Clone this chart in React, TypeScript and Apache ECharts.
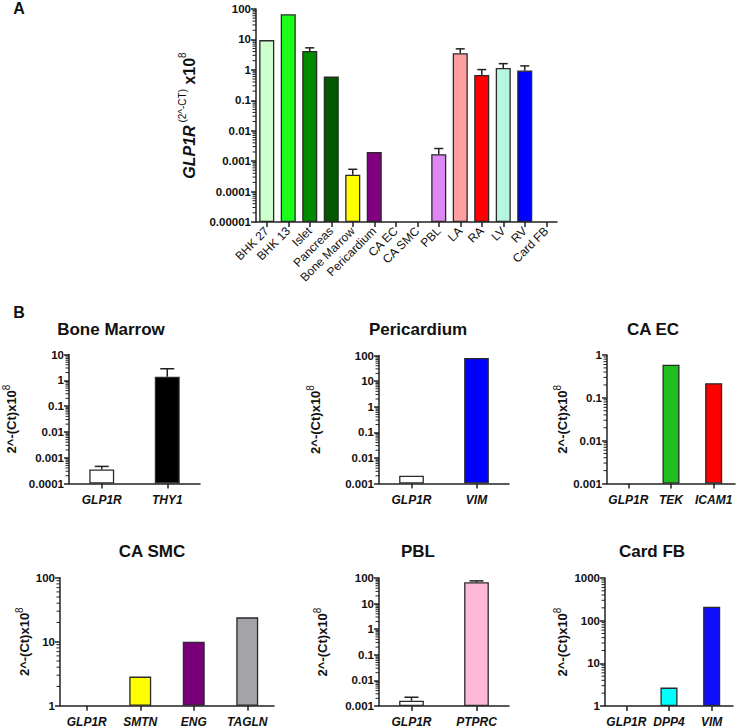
import React, { useEffect, useRef } from 'react';
import * as echarts from 'echarts';

// ---------- Data ----------
const topCategories = ['BHK 27', 'BHK 13', 'Islet', 'Pancreas', 'Bone Marrow', 'Pericardium', 'CA EC', 'CA SMC', 'PBL', 'LA', 'RA', 'LV', 'RV', 'Card FB'];
const topValues = [9.5, 67, 4.2, 0.6, 0.00036, 0.002, null, null, 0.0017, 3.5, 0.68, 1.15, 0.95, null];
const topErrTop = [null, null, 5.3, null, 0.00054, null, null, null, 0.0026, 4.9, 1.02, 1.6, 1.35, null];

const boneMarrowGenes = ['GLP1R', 'THY1'];
const boneMarrowValues = [0.00035, 1.38];
const boneMarrowErrTop = [0.00046, 2.8];

const pericardiumGenes = ['GLP1R', 'VIM'];
const pericardiumValues = [0.002, 80];
const pericardiumErrTop = [null, null];

const caEcGenes = ['GLP1R', 'TEK', 'ICAM1'];
const caEcValues = [null, 0.59, 0.22];
const caEcErrTop = [null, null, null];

const caSmcGenes = ['GLP1R', 'SMTN', 'ENG', 'TAGLN'];
const caSmcValues = [null, 2.85, 10, 24];
const caSmcErrTop = [null, null, null, null];

const pblGenes = ['GLP1R', 'PTPRC'];
const pblValues = [0.0016, 68];
const pblErrTop = [0.0022, 77];

const cardFbGenes = ['GLP1R', 'DPP4', 'VIM'];
const cardFbValues = [null, 2.7, 213];
const cardFbErrTop = [null, null, null];

// ---------- Styles ----------
const topColors = ['#ccffcc', '#1aff1a', '#008a00', '#005800', '#ffff00', '#800080', '#ffffff', '#ffffff', '#dd88f2', '#ffa0a0', '#ff0000', '#b4f6e0', '#0000ff', '#ffffff'];
const boneMarrowColors = ['#ffffff', '#000000'];
const pericardiumColors = ['#ffffff', '#0000ff'];
const caEcColors = ['#ffffff', '#1fbf1f', '#ff0000'];
const caSmcColors = ['#ffffff', '#ffff00', '#7a007a', '#a3a3a8'];
const pblColors = ['#ffffff', '#ffb8da'];
const cardFbColors = ['#ffffff', '#00ffff', '#1010ff'];

const FONT = '"Liberation Sans", Arial, Helvetica, sans-serif';
const AX = '#222';

function fmtLog(v: number): string {
  const e = Math.round(Math.log10(v));
  if (e >= 0) return String(Math.pow(10, e));
  return '0.' + '0'.repeat(-e - 1) + '1';
}

function minorValues(minExp: number, maxExp: number): number[] {
  const out: number[] = [];
  for (let e = minExp; e < maxExp; e++) {
    for (let m = 2; m <= 9; m++) out.push(m * Math.pow(10, e));
  }
  return out;
}

interface Panel {
  grid: { left: number; top: number; width: number; height: number };
  cats: string[];
  values: (number | null)[];
  errs: (number | null)[];
  colors: string[];
  minExp: number;
  maxExp: number;
  nameGap: number;
  top?: boolean;
  barWidth: string;
  cap: number;
}

const supName = '{b|2^-(Ct)x10}{s|8}';
const topName = '{gi|GLP1R}{s| (2^-CT)}{b| x10}{s|8}';

export default function App() {
  const ref = useRef<HTMLDivElement>(null);
  useEffect(() => {
    if (!ref.current) return;
    const chart = echarts.init(ref.current, null, { renderer: 'svg' });

    const panels: Panel[] = [
      { grid: { left: 256, top: 9, width: 301, height: 213 }, cats: topCategories, values: topValues, errs: topErrTop, colors: topColors, minExp: -5, maxExp: 2, nameGap: 59, top: true, barWidth: '70%', cap: 4.5 },
      { grid: { left: 68, top: 354.5, width: 132, height: 129 }, cats: boneMarrowGenes, values: boneMarrowValues, errs: boneMarrowErrTop, colors: boneMarrowColors, minExp: -4, maxExp: 1, nameGap: 51, barWidth: '38%', cap: 7 },
      { grid: { left: 379, top: 355.5, width: 130, height: 128 }, cats: pericardiumGenes, values: pericardiumValues, errs: pericardiumErrTop, colors: pericardiumColors, minExp: -3, maxExp: 2, nameGap: 57, barWidth: '38%', cap: 7 },
      { grid: { left: 607, top: 355, width: 128, height: 128.5 }, cats: caEcGenes, values: caEcValues, errs: caEcErrTop, colors: caEcColors, minExp: -3, maxExp: 0, nameGap: 38, barWidth: '40%', cap: 6 },
      { grid: { left: 60, top: 577.7, width: 214, height: 128 }, cats: caSmcGenes, values: caSmcValues, errs: caSmcErrTop, colors: caSmcColors, minExp: 0, maxExp: 2, nameGap: 29, barWidth: '41%', cap: 6 },
      { grid: { left: 379, top: 578, width: 130, height: 128 }, cats: pblGenes, values: pblValues, errs: pblErrTop, colors: pblColors, minExp: -3, maxExp: 2, nameGap: 50, barWidth: '38%', cap: 7 },
      { grid: { left: 605, top: 578, width: 128, height: 128 }, cats: cardFbGenes, values: cardFbValues, errs: cardFbErrTop, colors: cardFbColors, minExp: 0, maxExp: 3, nameGap: 36, barWidth: '40%', cap: 6 },
    ];

    const grids: any[] = [];
    const xAxes: any[] = [];
    const yAxes: any[] = [];
    const series: any[] = [];

    panels.forEach((p, i) => {
      grids.push({ ...p.grid, containLabel: false });
      xAxes.push({
        type: 'category',
        gridIndex: i,
        data: p.cats,
        axisLine: { show: true, onZero: false, lineStyle: { color: AX, width: 1.5 } },
        axisTick: { show: true, alignWithLabel: true, length: 5, lineStyle: { color: AX, width: 1.5 } },
        axisLabel: p.top
          ? { interval: 0, rotate: 45, fontSize: 12, color: '#111', fontFamily: FONT, margin: 7 }
          : { interval: 0, fontSize: 12, fontWeight: 'bold', fontStyle: 'italic', color: '#111', fontFamily: FONT, margin: 10 },
        splitLine: { show: false },
      });
      const min = Math.pow(10, p.minExp);
      const max = Math.pow(10, p.maxExp);
      yAxes.push({
        type: 'log',
        logBase: 10,
        gridIndex: i,
        min,
        max,
        startValue: min,
        splitNumber: p.maxExp - p.minExp,
        axisLine: { show: true, lineStyle: { color: AX, width: 1.5 } },
        axisTick: { show: true, length: 5, lineStyle: { color: AX, width: 1.5 } },
        splitLine: { show: false },
        axisLabel: { formatter: fmtLog, fontSize: 11.5, fontWeight: 'bold', color: '#111', fontFamily: FONT, margin: 5 },
        name: p.top ? topName : supName,
        nameLocation: 'middle',
        nameRotate: 90,
        nameGap: p.nameGap,
        nameTextStyle: {
          fontFamily: FONT,
          color: '#111',
          rich: p.top
            ? {
                gi: { fontSize: 16, fontWeight: 'bold', fontStyle: 'italic', fontFamily: FONT, color: '#111', verticalAlign: 'bottom', lineHeight: 20 },
                b: { fontSize: 16, fontWeight: 'bold', fontFamily: FONT, color: '#111', verticalAlign: 'bottom', lineHeight: 20 },
                s: { fontSize: 10, fontFamily: FONT, color: '#111', verticalAlign: 'top', lineHeight: 10 },
              }
            : {
                b: { fontSize: 13, fontWeight: 'bold', fontFamily: FONT, color: '#111', verticalAlign: 'bottom', lineHeight: 17 },
                s: { fontSize: 10, fontFamily: FONT, color: '#111', verticalAlign: 'top', lineHeight: 10 },
              },
        },
      });

      series.push({
        type: 'bar',
        xAxisIndex: i,
        yAxisIndex: i,
        barWidth: p.barWidth,
        data: p.values.map((v, k) => ({
          value: v == null ? '-' : v,
          itemStyle: { color: p.colors[k], borderColor: '#2a2a2a', borderWidth: 1.3 },
        })),
        z: 2,
      });

      const errData: any[] = [];
      p.errs.forEach((e, k) => {
        if (e != null && p.values[k] != null) errData.push([k, p.values[k], e]);
      });
      series.push({
        type: 'custom',
        xAxisIndex: i,
        yAxisIndex: i,
        encode: { x: 0, y: [1, 2] },
        data: errData,
        z: 3,
        renderItem: (params: any, api: any) => {
          const a = api.coord([api.value(0), api.value(1)]);
          const b = api.coord([api.value(0), api.value(2)]);
          const st = { stroke: AX, lineWidth: 1.5 };
          return {
            type: 'group',
            children: [
              { type: 'line', shape: { x1: a[0], y1: a[1], x2: a[0], y2: b[1] }, style: st },
              { type: 'line', shape: { x1: a[0] - p.cap, y1: b[1], x2: a[0] + p.cap, y2: b[1] }, style: st },
            ],
          };
        },
      });

      series.push({
        type: 'custom',
        xAxisIndex: i,
        yAxisIndex: i,
        encode: { x: 0, y: 1 },
        data: minorValues(p.minExp, p.maxExp).map((v) => [0, v]),
        z: 3,
        silent: true,
        renderItem: (params: any, api: any) => {
          const y = api.coord([0, api.value(1)])[1];
          const x = params.coordSys.x;
          return { type: 'line', shape: { x1: x - 3.5, y1: y, x2: x, y2: y }, style: { stroke: AX, lineWidth: 1 } };
        },
      });
    });

    const titleStyle = (text: string, x: number, y: number, size: number) => ({
      type: 'text',
      x,
      y,
      style: {
        text,
        font: `bold ${size}px ${FONT}`,
        fill: '#111',
        align: 'center',
        verticalAlign: 'middle',
        textAlign: 'center',
        textVerticalAlign: 'middle',
      },
    });

    chart.setOption({
      animation: false,
      backgroundColor: '#ffffff',
      grid: grids,
      xAxis: xAxes,
      yAxis: yAxes,
      series,
      graphic: [
        titleStyle('A', 19, 8, 16),
        titleStyle('B', 19, 312, 16),
        titleStyle('Bone Marrow', 111, 329, 17),
        titleStyle('Pericardium', 418, 329, 17),
        titleStyle('CA EC', 653, 329, 17),
        titleStyle('CA SMC', 152, 551, 17),
        titleStyle('PBL', 418, 551, 17),
        titleStyle('Card FB', 652, 551, 17),
      ],
    });

    return () => chart.dispose();
  }, []);

  return <div ref={ref} style={{ position: 'absolute', left: 0, top: 0, width: 738, height: 728 }} />;
}
